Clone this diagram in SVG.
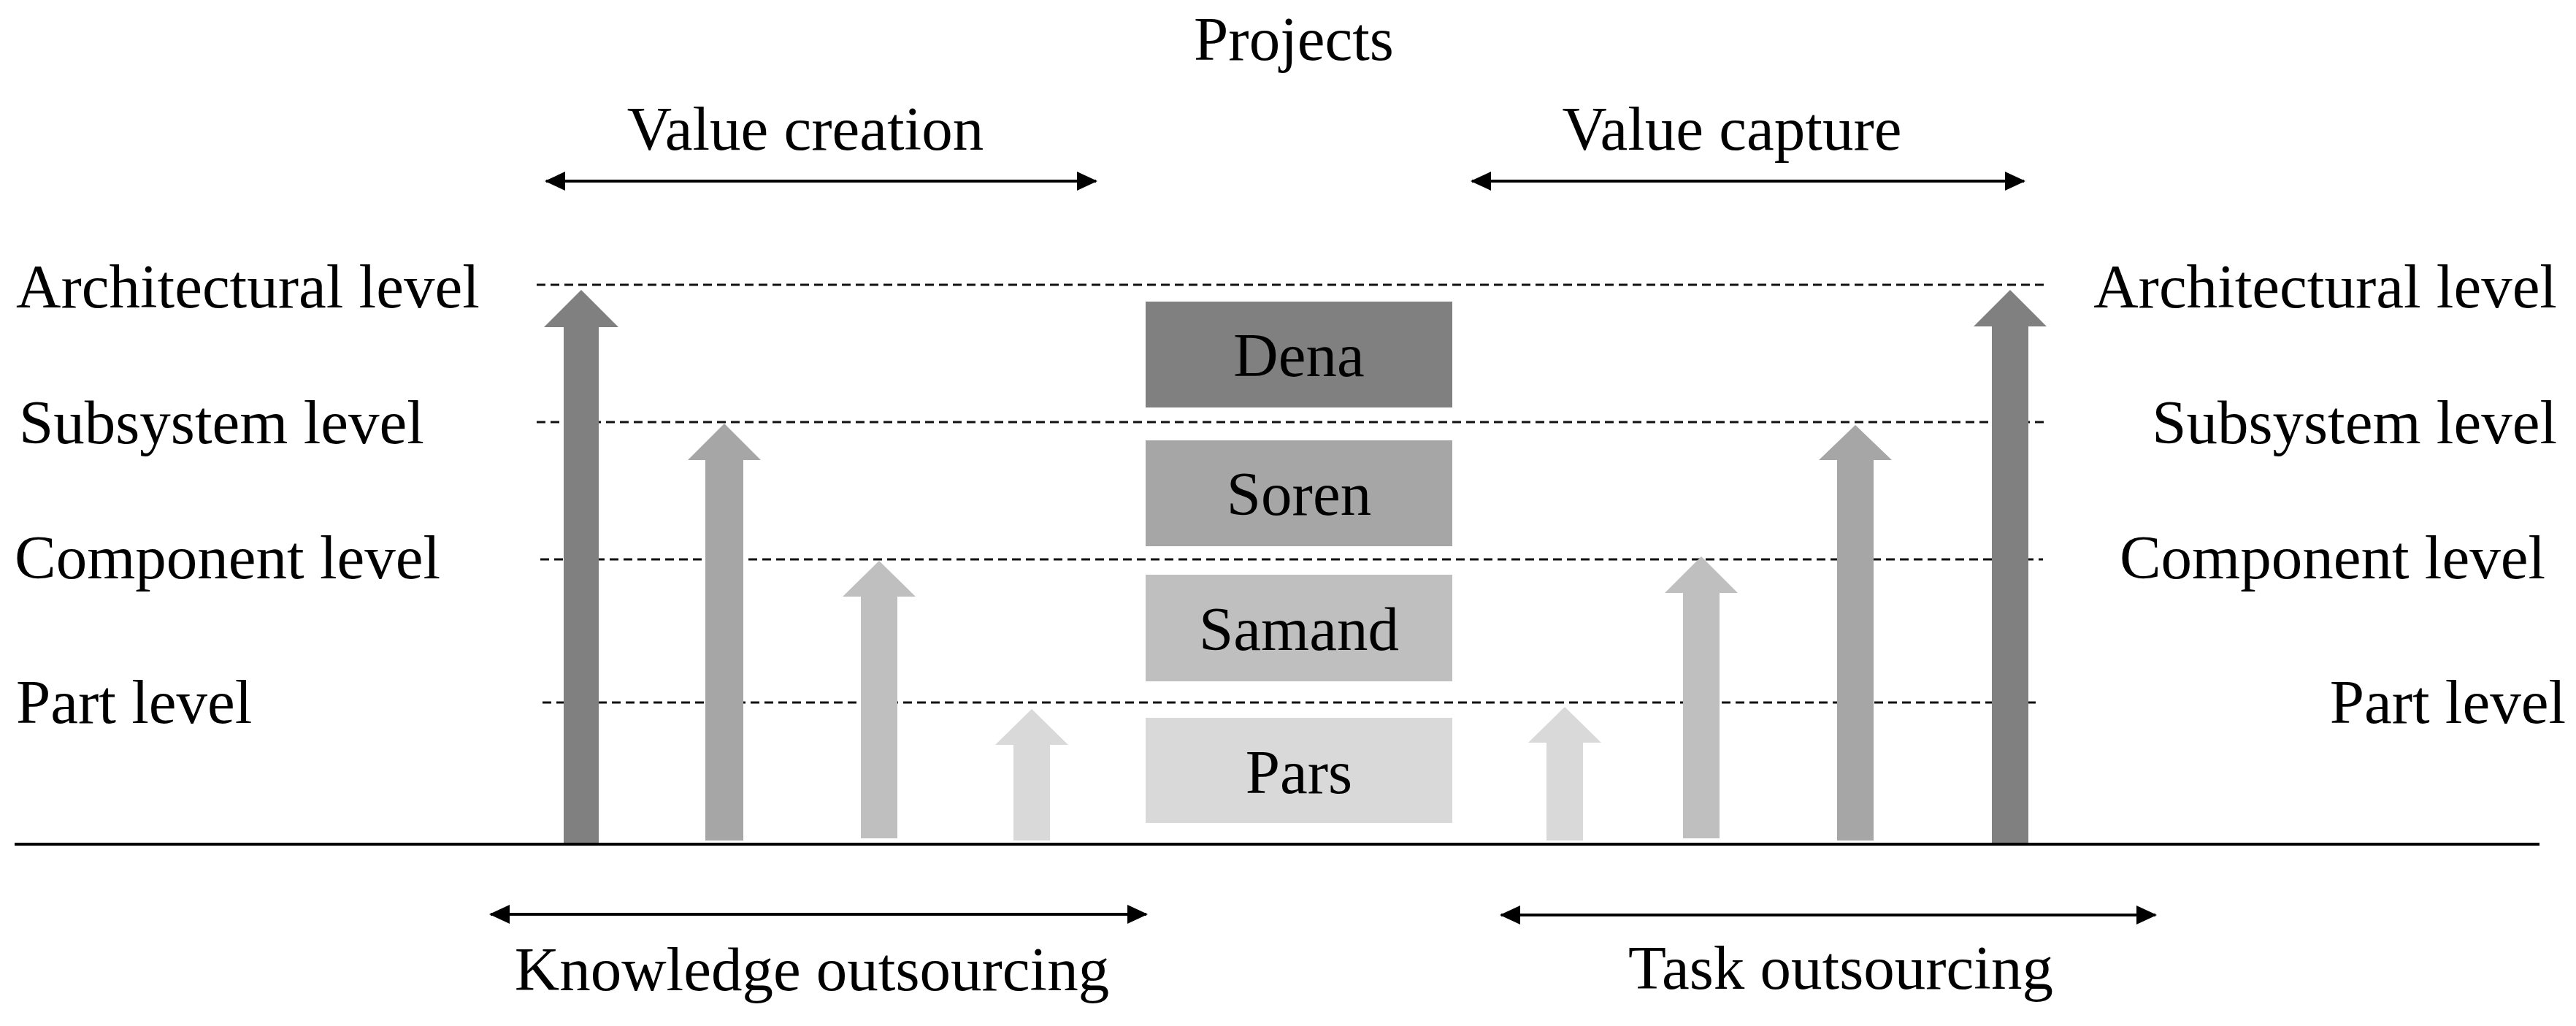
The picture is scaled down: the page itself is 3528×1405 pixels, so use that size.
<svg xmlns="http://www.w3.org/2000/svg" width="3528" height="1405" viewBox="0 0 3528 1405">
<style>
  text { font-family: "Liberation Serif", "Times New Roman", serif; font-size: 85px; fill: #000; }
  .mid { text-anchor: middle; }
  .end { text-anchor: end; }
  .dash { stroke: #111; stroke-width: 3; stroke-dasharray: 12 7; fill: none; }
  .dbl { stroke: #000; stroke-width: 4; fill: none; marker-start: url(#ah); marker-end: url(#ah); }
  .g1 { fill: #808080; }
  .g2 { fill: #a6a6a6; }
  .g3 { fill: #bfbfbf; }
  .g4 { fill: #d9d9d9; }
</style>
<defs>
  <marker id="ah" viewBox="0 0 28 28" refX="26" refY="14" markerWidth="28" markerHeight="28" markerUnits="userSpaceOnUse" orient="auto-start-reverse">
    <path d="M0,1 L28,14 L0,27 Z" fill="#000"/>
  </marker>
</defs>
<rect width="3528" height="1405" fill="#fff"/>

<g id="levels">
  <line class="dash" x1="735" y1="390" x2="2802" y2="390"/>
  <line class="dash" x1="735" y1="578" x2="2802" y2="578"/>
  <line class="dash" x1="740" y1="766" x2="2798" y2="766"/>
  <line class="dash" x1="743" y1="962" x2="2794" y2="962"/>
</g>

<g id="titles">
  <text class="mid" x="1772" y="82">Projects</text>
  <text class="mid" x="1103" y="205">Value creation</text>
  <text class="mid" x="2372" y="205">Value capture</text>
  <text class="mid" x="1112" y="1356">Knowledge outsourcing</text>
  <text class="mid" x="2521" y="1354">Task outsourcing</text>
</g>

<g id="left-labels">
  <text x="22" y="421">Architectural level</text>
  <text x="26" y="607">Subsystem level</text>
  <text x="20" y="792">Component level</text>
  <text x="22" y="990">Part level</text>
</g>

<g id="right-labels">
  <text class="end" x="3502" y="421">Architectural level</text>
  <text class="end" x="3502" y="607">Subsystem level</text>
  <text class="end" x="3486" y="792">Component level</text>
  <text class="end" x="3514" y="990">Part level</text>
</g>

<g id="project-dena">
  <rect class="g1" x="1569" y="413" width="420" height="145"/>
  <text class="mid" x="1779" y="515">Dena</text>
</g>
<g id="project-soren">
  <rect class="g2" x="1569" y="603" width="420" height="145"/>
  <text class="mid" x="1779" y="705">Soren</text>
</g>
<g id="project-samand">
  <rect class="g3" x="1569" y="787" width="420" height="146"/>
  <text class="mid" x="1779" y="890">Samand</text>
</g>
<g id="project-pars">
  <rect class="g4" x="1569" y="983" width="420" height="144"/>
  <text class="mid" x="1779" y="1086">Pars</text>
</g>

<g id="level-arrows">
  <path class="g1" d="M772,1155 V448 H745 L796,397 L847,448 H820 V1155 Z"/>
  <path class="g2" d="M966,1151 V630 H942 L992,580 L1042,630 H1018 V1151 Z"/>
  <path class="g3" d="M1179,1148 V817 H1154 L1204,768 L1254,817 H1229 V1148 Z"/>
  <path class="g4" d="M1388,1151 V1020 H1363 L1413,971 L1463,1020 H1438 V1151 Z"/>
  <path class="g4" d="M2118,1151 V1017 H2093 L2143,968 L2193,1017 H2168 V1151 Z"/>
  <path class="g3" d="M2305,1148 V812 H2280 L2330,762 L2380,812 H2355 V1148 Z"/>
  <path class="g2" d="M2516,1151 V630 H2491 L2541,582 L2591,630 H2566 V1151 Z"/>
  <path class="g1" d="M2728,1155 V447 H2703 L2753,397 L2803,447 H2778 V1155 Z"/>
</g>

<g id="connectors">
  <line class="dbl" x1="748" y1="248" x2="1501" y2="248"/>
  <line class="dbl" x1="2016" y1="248" x2="2772" y2="248"/>
  <line class="dbl" x1="672" y1="1252" x2="1570" y2="1252"/>
  <line class="dbl" x1="2056" y1="1253" x2="2952" y2="1253"/>
  <line x1="20" y1="1156" x2="3478" y2="1156" stroke="#000" stroke-width="4"/>
</g>
</svg>
